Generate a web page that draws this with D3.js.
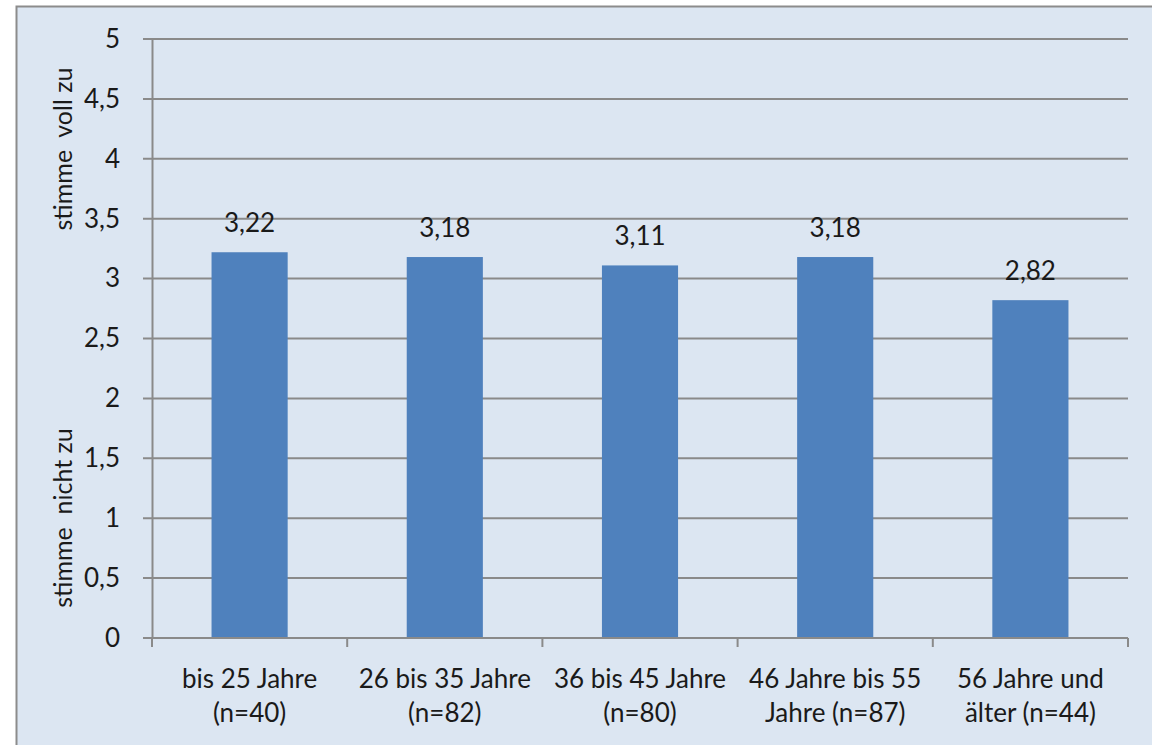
<!DOCTYPE html>
<html>
<head>
<meta charset="utf-8">
<script src="https://cdn.jsdelivr.net/npm/d3@7"></script>
<style>
  body { margin: 0; background: #fff; }
  text { font-family: Lato, "Open Sans", sans-serif; fill: #1a1a1a; }
</style>
</head>
<body>
<div id="chart"></div>
<script>
// chart data
let categories = ["bis 25 Jahre|(n=40)", "26 bis 35 Jahre|(n=82)", "36 bis 45 Jahre|(n=80)",
                  "46 Jahre bis 55|Jahre (n=87)", "56 Jahre und|älter (n=44)"];
let values = [3.22, 3.18, 3.11, 3.18, 2.82];
let yTicks = [0, 0.5, 1, 1.5, 2, 2.5, 3, 3.5, 4, 4.5, 5];
let axisLabels = ["stimme\u00A0 voll zu", "stimme\u00A0 nicht zu"];

let W = 1152, H = 745;
let margin = {top: 39, right: 24, bottom: 107, left: 152},
    width = W - margin.left - margin.right,
    height = H - margin.top - margin.bottom;

let comma = (v) => String(v).replace(".", ",");

let svg = d3.select("#chart").append("svg")
    .attr("width", W)
    .attr("height", H);

// chart frame
svg.append("rect")
    .attr("x", 16.5).attr("y", 6.5)
    .attr("width", W + 10).attr("height", H + 10)
    .attr("fill", "#dce6f2")
    .attr("stroke", "#8c8c8c")
    .attr("stroke-width", 2);

let g = svg.append("g")
    .attr("transform", "translate(" + margin.left + "," + margin.top + ")");

let x = d3.scaleBand()
    .domain(categories)
    .range([0, width])
    .paddingInner(0.61)
    .paddingOuter(0.305);

let y = d3.scaleLinear()
    .domain([0, 5])
    .range([height, 0]);

// gridlines
g.append("g")
    .selectAll("line")
    .data(yTicks)
    .enter().append("line")
    .attr("x1", -9).attr("x2", width)
    .attr("y1", (d) => y(d)).attr("y2", (d) => y(d))
    .attr("stroke", "#8a8a8a")
    .attr("stroke-width", 2);

// y axis
let yAxis = g.append("g")
    .call(d3.axisLeft(y).tickValues(yTicks).tickFormat(comma).tickSize(0).tickPadding(32));
yAxis.select(".domain").attr("stroke", "#8a8a8a").attr("stroke-width", 2);
yAxis.selectAll("text").style("font-size", "26px").attr("fill", "#1a1a1a");

// bars
g.selectAll(".bar")
    .data(values)
    .enter().append("rect")
    .attr("class", "bar")
    .attr("x", (d, i) => x(categories[i]))
    .attr("width", x.bandwidth())
    .attr("y", (d) => y(d))
    .attr("height", (d) => height - y(d))
    .attr("fill", "#4f81bd");

// value labels
g.selectAll(".val")
    .data(values)
    .enter().append("text")
    .attr("class", "val")
    .attr("x", (d, i) => x(categories[i]) + x.bandwidth() / 2)
    .attr("y", (d) => y(d) - 20)
    .attr("text-anchor", "middle")
    .style("font-size", "26px")
    .text((d) => comma(d.toFixed(2)));

// x axis line and category ticks
let step = x.step();
let bottom = g.append("g").attr("transform", "translate(0," + height + ")");
bottom.append("line")
    .attr("x1", 0).attr("x2", width)
    .attr("stroke", "#8a8a8a").attr("stroke-width", 2);
bottom.selectAll(".ctick")
    .data(d3.range(categories.length + 1))
    .enter().append("line")
    .attr("x1", (i) => i * step).attr("x2", (i) => i * step)
    .attr("y1", 0).attr("y2", 9)
    .attr("stroke", "#8a8a8a").attr("stroke-width", 2);

// category labels on two lines
let cl = bottom.selectAll(".cat")
    .data(categories)
    .enter().append("text")
    .attr("class", "cat")
    .attr("text-anchor", "middle")
    .style("font-size", "26px");
cl.append("tspan").attr("x", (d) => x(d) + x.bandwidth() / 2).attr("y", 50)
    .text((d) => d.split("|")[0]);
cl.append("tspan").attr("x", (d) => x(d) + x.bandwidth() / 2).attr("y", 84)
    .text((d) => d.split("|")[1]);

// axis titles
svg.selectAll(".ytitle")
    .data(axisLabels)
    .enter().append("text")
    .attr("class", "ytitle")
    .attr("transform", (d, i) => "translate(72," + (i == 0 ? 149 : 518) + ") rotate(-90)")
    .attr("text-anchor", "middle")
    .style("font-size", "25px")
    .text((d) => d);
</script>
</body>
</html>
